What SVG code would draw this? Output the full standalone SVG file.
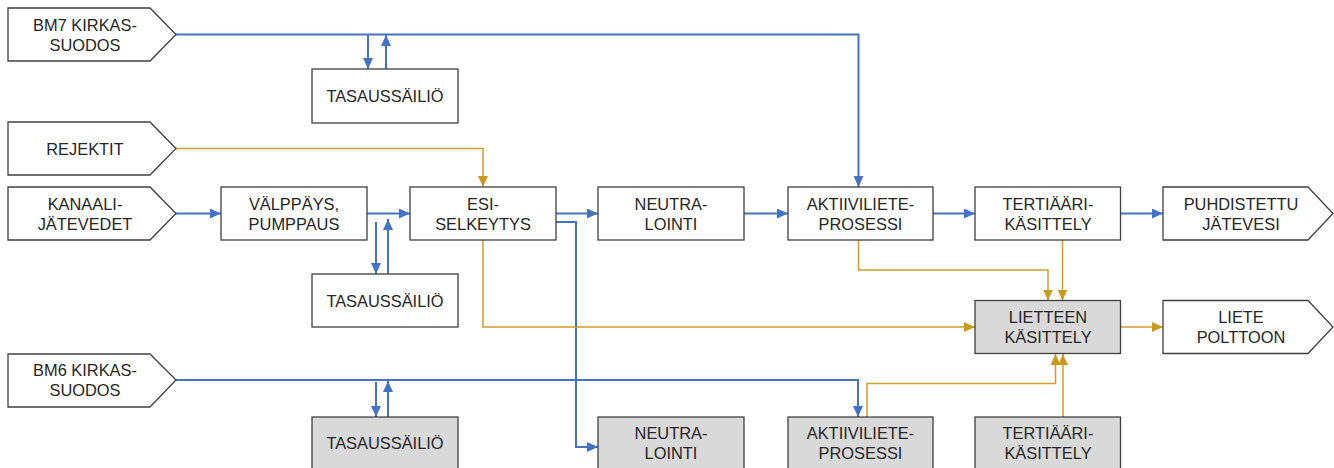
<svg xmlns="http://www.w3.org/2000/svg" width="1334" height="468" viewBox="0 0 1334 468">
<style>
.box{fill:#fff;stroke:#404040;stroke-width:1.3}
.gray{fill:#d9d9d9}
.t{font-family:"Liberation Sans",Arial,sans-serif;font-size:16.4px;fill:#262626;text-anchor:middle}
.b{fill:none;stroke:#4472c4;stroke-width:2}
.g{fill:none;stroke:#cc9f2c;stroke-width:1.5}
</style>
<defs>
<marker id="ab" markerUnits="userSpaceOnUse" markerWidth="11" markerHeight="10" refX="11" refY="5" orient="auto"><path d="M0,0 L11,5 L0,10 z" fill="#4472c4"/></marker>
<marker id="ag" markerUnits="userSpaceOnUse" markerWidth="11" markerHeight="10" refX="11" refY="5" orient="auto"><path d="M0,0 L11,5 L0,10 z" fill="#c99a1e"/></marker>
</defs>
<rect width="1334" height="468" fill="#fff"/>
<g id="connectors">
<path class="b" d="M176,34.5 H858.5 V187" marker-end="url(#ab)"/>
<path class="b" d="M368,34.5 V69" marker-end="url(#ab)"/>
<path class="b" d="M386,69 V35" marker-end="url(#ab)"/>
<path class="b" d="M176,213.5 H221" marker-end="url(#ab)"/>
<path class="b" d="M367,213.5 H410" marker-end="url(#ab)"/>
<path class="b" d="M376,222 V274" marker-end="url(#ab)"/>
<path class="b" d="M388,274 V219" marker-end="url(#ab)"/>
<path class="b" d="M556,213.5 H598" marker-end="url(#ab)"/>
<path class="b" d="M556,222 H576 V447 H598" marker-end="url(#ab)"/>
<path class="b" d="M744,213.5 H788" marker-end="url(#ab)"/>
<path class="b" d="M933,213.5 H975" marker-end="url(#ab)"/>
<path class="b" d="M1120.5,213.5 H1163" marker-end="url(#ab)"/>
<path class="b" d="M176,380 H858 V417" marker-end="url(#ab)"/>
<path class="b" d="M376,382 V417" marker-end="url(#ab)"/>
<path class="b" d="M388,417 V381" marker-end="url(#ab)"/>
<path class="g" d="M176,148.5 H483 V187" marker-end="url(#ag)"/>
<path class="g" d="M483,240 V327 H975" marker-end="url(#ag)"/>
<path class="g" d="M858.5,240 V270 H1048 V300.5" marker-end="url(#ag)"/>
<path class="g" d="M1062.5,240 V300.5" marker-end="url(#ag)"/>
<path class="g" d="M1120.5,327 H1163" marker-end="url(#ag)"/>
<path class="g" d="M867,417 V383.5 H1055.5 V354" marker-end="url(#ag)"/>
<path class="g" d="M1063,417 V354" marker-end="url(#ag)"/>
</g>
<g id="bm7"><path class="box" d="M8,8 H150 L176,34.5 L150,61 H8 Z"/><text class="t" x="85" y="30.5">BM7 KIRKAS-</text><text class="t" x="85" y="50.5">SUODOS</text></g>
<g id="tasaus1"><rect class="box" x="312" y="69" width="146" height="54"/><text class="t" x="385" y="102">TASAUSSÄILIÖ</text></g>
<g id="rejektit"><path class="box" d="M8,122 H150 L176,148.5 L150,175 H8 Z"/><text class="t" x="85" y="154.5">REJEKTIT</text></g>
<g id="kanaali"><path class="box" d="M8,187 H150 L176,213.5 L150,240 H8 Z"/><text class="t" x="85" y="209.5">KANAALI-</text><text class="t" x="85" y="229.5">JÄTEVEDET</text></g>
<g id="valppays"><rect class="box" x="221" y="187" width="146" height="53"/><text class="t" x="294" y="209.5">VÄLPPÄYS,</text><text class="t" x="294" y="229.5">PUMPPAUS</text></g>
<g id="esi"><rect class="box" x="410" y="187" width="146" height="53"/><text class="t" x="483" y="209.5">ESI-</text><text class="t" x="483" y="229.5">SELKEYTYS</text></g>
<g id="neutra"><rect class="box" x="598" y="187" width="146" height="53"/><text class="t" x="671" y="209.5">NEUTRA-</text><text class="t" x="671" y="229.5">LOINTI</text></g>
<g id="aktiivi"><rect class="box" x="788" y="187" width="145" height="53"/><text class="t" x="860.5" y="209.5">AKTIIVILIETE-</text><text class="t" x="860.5" y="229.5">PROSESSI</text></g>
<g id="tertiaari"><rect class="box" x="975" y="187" width="145.5" height="53"/><text class="t" x="1048" y="209.5">TERTIÄÄRI-</text><text class="t" x="1048" y="229.5">KÄSITTELY</text></g>
<g id="puhdistettu"><path class="box" d="M1163,187 H1308 L1333,213.5 L1308,240 H1163 Z"/><text class="t" x="1241" y="209.5">PUHDISTETTU</text><text class="t" x="1241" y="229.5">JÄTEVESI</text></g>
<g id="tasaus2"><rect class="box" x="312" y="274" width="146" height="53"/><text class="t" x="385" y="306.5">TASAUSSÄILIÖ</text></g>
<g id="lietteen"><rect class="box gray" x="975" y="300.5" width="145.5" height="53"/><text class="t" x="1048" y="323">LIETTEEN</text><text class="t" x="1048" y="343">KÄSITTELY</text></g>
<g id="liete"><path class="box" d="M1163,300.5 H1308 L1333,327 L1308,353.5 H1163 Z"/><text class="t" x="1241" y="323">LIETE</text><text class="t" x="1241" y="343">POLTTOON</text></g>
<g id="bm6"><path class="box" d="M8,354 H150 L176,380 L150,407 H8 Z"/><text class="t" x="85" y="376">BM6 KIRKAS-</text><text class="t" x="85" y="396">SUODOS</text></g>
<g id="tasaus3"><rect class="box gray" x="312" y="417" width="146" height="60"/><text class="t" x="385" y="448.5">TASAUSSÄILIÖ</text></g>
<g id="neutra2"><rect class="box gray" x="598" y="417" width="146" height="60"/><text class="t" x="671" y="438.5">NEUTRA-</text><text class="t" x="671" y="458.5">LOINTI</text></g>
<g id="aktiivi2"><rect class="box gray" x="788" y="417" width="145" height="60"/><text class="t" x="860.5" y="438.5">AKTIIVILIETE-</text><text class="t" x="860.5" y="458.5">PROSESSI</text></g>
<g id="tertiaari2"><rect class="box gray" x="975" y="417" width="145.5" height="60"/><text class="t" x="1048" y="438.5">TERTIÄÄRI-</text><text class="t" x="1048" y="458.5">KÄSITTELY</text></g>
</svg>
